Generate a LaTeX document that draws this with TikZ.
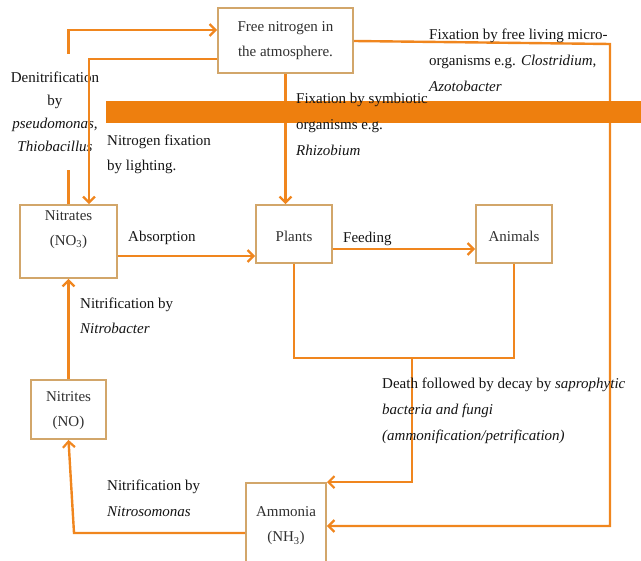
\documentclass[tikz,border=0pt]{standalone}
\usepackage{fontspec}
\setmainfont{Liberation Serif}
\usetikzlibrary{arrows.meta}

\definecolor{flow}{HTML}{F0861E}
\definecolor{band}{HTML}{EE7F0E}
\definecolor{boxline}{HTML}{D2A66A}
\definecolor{ink}{HTML}{141414}
\definecolor{boxink}{HTML}{303030}

\begin{document}
\begin{tikzpicture}[x=1pt,y=-1pt,
  every node/.style={font=\fontsize{15}{25}\selectfont, text=ink},
  stage/.style={draw=boxline, line width=1.8pt, fill=white, inner sep=0pt},
  stagetext/.style={text=boxink, align=center, inner sep=0pt},
  flowline/.style={draw=flow, line width=2.4pt},
  arr/.style={flowline, -{Straight Barb[length=6pt,width=12pt,line width=2.2pt]}},
  note/.style={inner sep=0pt, align=left, anchor=north west},
]
\useasboundingbox (0,0) rectangle (641,561);
\clip (0,0) rectangle (641,561);

% compartments of the cycle
\node[stage, minimum width=135, minimum height=65] (air) at (285.5,40.5) {};
\node[stagetext] (airtext) at (air.center) {Free nitrogen in\\the atmosphere.};

\node[stage, minimum width=97, minimum height=73] (nitrates) at (68.5,241.5) {};
\node[stagetext, anchor=north] (nitratestext) at (68.5,210) {Nitrates\\(NO\textsubscript{3})};

\node[stage, minimum width=76, minimum height=58] (plants) at (294,234) {};
\node[stagetext] (plantstext) at (294,236) {Plants};

\node[stage, minimum width=76, minimum height=58] (animals) at (514,234) {};
\node[stagetext] (animalstext) at (514,236) {Animals};

\node[stage, minimum width=75, minimum height=59] (nitrites) at (68.5,409.5) {};
\node[stagetext] (nitritestext) at (68.5,411) {Nitrites\\(NO)};

\node[stage, minimum width=80, minimum height=86] (ammonia) at (286,526) {};
\node[stagetext] (ammoniatext) at (286,526) {Ammonia\\(NH\textsubscript{3})};

% denitrification: nitrates back to the atmosphere
\draw[arr] (nitrates.north) |- (air.west |- 0,30);
\node[inner xsep=1pt, inner ysep=18pt, fill=white, align=center, anchor=north,
      font=\fontsize{15}{23}\selectfont] (denit) at (55,54)
  {Denitrification\\by\\\textit{pseudomonas,}\\\textit{Thiobacillus}};

% fixation by lightning
\draw[arr] (air.west |- 0,59) -| (nitrates.north -| 89,0);

% fixation by symbiotic organisms
\draw[arr] (air.south) -- (air.south |- plants.north);

% fixation by free living organisms
\coordinate (fl1) at (610,44);
\coordinate (fl2) at (610,526);
\draw[arr] (air.east |- 0,41) -- (fl1) -- (fl2) -- (ammonia.east |- fl2);

% absorption and feeding
\draw[arr] (nitrates.east |- 0,256) -- (plants.west |- 0,256);
\draw[arr] (plants.east |- 0,249) -- (animals.west |- 0,249);

% death and decay
\coordinate (dd) at (412,358);
\draw[flowline] (plants.south) -- (plants.south |- dd) -- (animals.south |- dd) -- (animals.south);
\draw[arr] (dd) -- (dd |- ammonia.north) -- (ammonia.north east);

% nitrification
\coordinate (nt) at (74,533);
\draw[arr] (ammonia.west |- nt) -- (nt) -- (nitrites.south);
\draw[arr] (nitrites.north) -- (nitrates.south);

% highlight band
\fill[band] (106,101) rectangle (641,123);

% process labels
\node[note] (lightning) at (107,135) {Nitrogen fixation\\by lighting.};
\node[note, font=\fontsize{15}{26}\selectfont] (symbiotic) at (296,93)
  {Fixation by symbiotic\\organisms e.g.\\\textit{Rhizobium}};
\node[note, font=\fontsize{15}{26}\selectfont] (freeliving) at (429,29)
  {Fixation by free living micro-\\organisms e.g. \textit{Clostridium},\\\textit{Azotobacter}};
\node[note] (absorption) at (128,231) {Absorption};
\node[note] (feeding) at (343,232) {Feeding};
\node[note] (nitrobacter) at (80,298) {Nitrification by\\\textit{Nitrobacter}};
\node[note, font=\fontsize{15}{26}\selectfont] (nitrosomonas) at (107,480)
  {Nitrification by\\\textit{Nitrosomonas}};
\node[note, font=\fontsize{15}{26}\selectfont] (decay) at (382,378)
  {Death followed by decay by \textit{saprophytic}\\\textit{bacteria and fungi}\\\textit{(ammonification/petrification)}};
\end{tikzpicture}
\end{document}
